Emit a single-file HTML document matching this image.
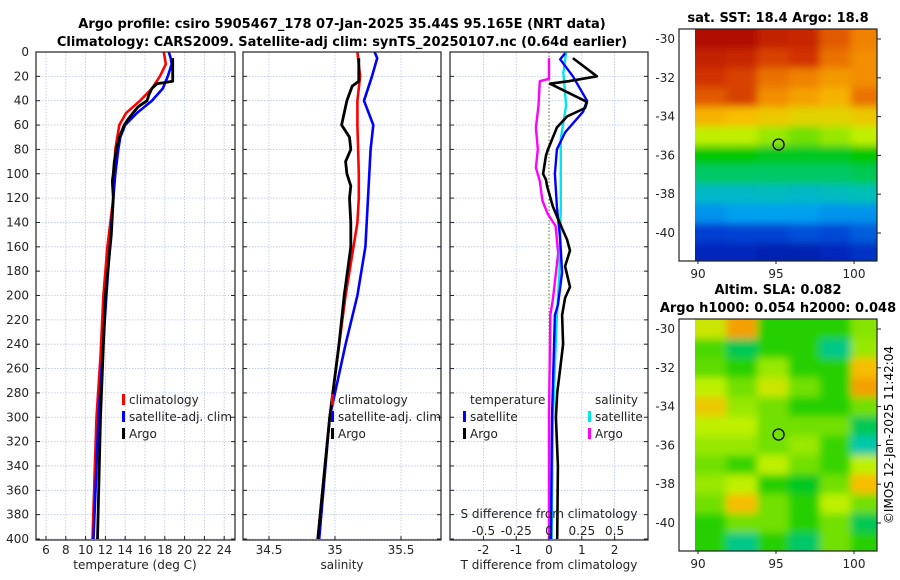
<!DOCTYPE html>
<html><head><meta charset="utf-8"><style>
html,body{margin:0;padding:0;background:#fff;}
svg{display:block;font-family:"DejaVu Sans","Liberation Sans",sans-serif;}
</style></head><body>
<svg id="fig" width="900" height="580" viewBox="0 0 900 580" xmlns="http://www.w3.org/2000/svg">
<defs>
<filter id="soft" x="-5%" y="-5%" width="110%" height="110%"><feGaussianBlur stdDeviation="4"/></filter>
<clipPath id="clipTop"><rect x="695" y="29" width="182" height="232"/></clipPath>
<clipPath id="clipBot"><rect x="695" y="319" width="182" height="232"/></clipPath>
</defs>
<text x="342" y="28" font-size="13" font-weight="bold" text-anchor="middle">Argo profile: csiro 5905467_178 07-Jan-2025 35.44S 95.165E (NRT data)</text>
<text x="342" y="46" font-size="13" font-weight="bold" text-anchor="middle">Climatology: CARS2009. Satellite-adj clim: synTS_20250107.nc (0.64d earlier)</text>
<text x="778" y="22" font-size="13" font-weight="bold" text-anchor="middle">sat. SST: 18.4 Argo: 18.8</text>
<text x="778" y="294" font-size="13" font-weight="bold" text-anchor="middle">Altim. SLA: 0.082</text>
<text x="778" y="312" font-size="13" font-weight="bold" text-anchor="middle">Argo h1000: 0.054 h2000: 0.048</text>
<text transform="translate(893,435) rotate(-90)" font-size="12" text-anchor="middle">©IMOS 12-Jan-2025 11:42:04</text>
<g id="layer"></g>
</svg>
<script>
// ---------- data ----------
const depthTick = [0,20,40,60,80,100,120,140,160,180,200,220,240,260,280,300,320,340,360,380,400];
const tTicks = [6,8,10,12,14,16,18,20,22,24];
const sTicks = [34.5,35,35.5];
const dTTicks = [-2,-1,0,1,2];
const dSTicks = [-0.5,-0.25,0,0.25,0.5];
const dSTickLabels = ['-0.5','-0.25','0','0.25','0.5'];

const climTdepth = [0,10,20,30,40,50,60,70,80,100,120,160,200,250,300,400];
const climT = [17.9,18.1,17.5,16.7,15.5,14.1,13.4,13.2,13.0,12.9,12.8,12.2,11.8,11.5,11.1,10.7];
const satTdepth = [0,5,10,20,30,40,50,60,70,80,100,120,200,300,400];
const satT = [18.4,18.6,18.7,18.3,17.8,16.7,15.2,14.0,13.5,13.3,13.0,12.8,12.1,11.3,10.8];
const argoTdepth = [5,20,24,26,30,35,40,45,50,55,60,70,80,90,100,106,120,150,200,300,400];
const argoT = [18.8,18.8,18.8,17.2,16.7,16.4,16.2,15.3,14.8,14.3,13.9,13.4,13.1,12.9,12.8,12.7,12.8,12.6,12.0,11.5,11.2];

const climSdepth = [0,20,40,60,100,120,140,160,200,250,300,400];
const climS = [35.17,35.19,35.17,35.17,35.18,35.18,35.17,35.14,35.08,35.02,34.96,34.87];
const satSdepth = [0,5,20,40,60,80,100,120,160,200,240,280,300,400];
const satS = [35.30,35.32,35.28,35.22,35.29,35.27,35.26,35.25,35.23,35.17,35.08,35.00,34.96,34.88];
const argoSdepth = [5,24,28,40,50,60,65,70,80,90,100,110,120,140,160,200,240,300,400];
const argoS = [35.18,35.18,35.13,35.09,35.07,35.05,35.08,35.11,35.12,35.08,35.09,35.12,35.11,35.12,35.12,35.07,35.03,34.96,34.87];

const dTargoDepth = [5,20,24,26,41,46,53,62,80,85,100,105,110,127,143,154,163,176,193,202,216,240,260,280,300,340,400];
const dTargo = [0.73,1.46,0.6,0.03,1.16,1.1,0.55,0.24,-0.03,-0.09,-0.18,-0.09,-0.06,0.12,0.37,0.55,0.64,0.49,0.64,0.49,0.4,0.43,0.34,0.25,0.21,0.27,0.25];
const dTsatDepth = [1,6,20,40,49,66,80,100,127,154,181,208,216,300,400];
const dTsat = [0.49,0.34,0.73,1.16,1.04,0.49,0.24,0.18,0.24,0.34,0.4,0.27,0.18,0.09,0.06];
const dSsatDepth = [0,17,44,71,127,181,216,300,400];
const dSsat = [0.13,0.11,0.13,0.09,0.09,0.08,0.06,0.03,0.02];
const dSargoDepth = [5,22,24,44,62,80,95,106,122,133,143,165,203,216,300,400];
const dSargo = [0,0,-0.07,-0.08,-0.1,-0.085,-0.1,-0.07,-0.05,-0.01,0.05,0.07,0.03,0.01,0,0];

const mapLats = [-30,-31,-32,-33,-34,-35,-36,-37,-38,-39,-40,-41];
const mapLonStarts = [89.8,91.8,93.8,95.8,97.8,99.8];
const sstGrid = [
 [.97,.97,.93,.92,.85,.8],[.93,.92,.88,.9,.82,.78],[.9,.88,.82,.8,.76,.78],[.85,.88,.78,.75,.72,.82],
 [.72,.7,.68,.66,.66,.68],[.6,.6,.58,.56,.58,.6],[.5,.5,.48,.48,.48,.5],[.44,.44,.44,.44,.44,.45],
 [.36,.36,.37,.36,.37,.38],[.28,.3,.3,.3,.28,.28],[.15,.16,.16,.18,.17,.2],[.1,.1,.08,.08,.1,.12]];
const slaGrid = [
 [.62,.75,.52,.52,.52,.57],[.54,.45,.52,.52,.42,.58],[.55,.52,.58,.52,.52,.7],[.6,.56,.62,.56,.52,.75],
 [.68,.58,.56,.52,.52,.56],[.6,.6,.56,.56,.56,.45],[.58,.58,.56,.58,.53,.4],[.56,.53,.6,.56,.53,.6],
 [.58,.6,.52,.48,.56,.7],[.56,.7,.56,.52,.6,.56],[.52,.56,.56,.52,.56,.45],[.52,.42,.52,.44,.56,.52]];
const floatLon = 95.165, floatLat = -35.44;
const lonTicks = [90,95,100];
const latTicks = [-30,-32,-34,-36,-38,-40];

// ---------- helpers ----------
const NS='http://www.w3.org/2000/svg';
const layer=document.getElementById('layer');
function mk(tag,attrs,parent){const e=document.createElementNS(NS,tag);for(const k in attrs)e.setAttribute(k,attrs[k]);(parent||layer).appendChild(e);return e;}
const yD = d => 52 + d*1.2175;
const P1 = {x0:36,x1:235}, P2={x0:243,x1:441}, P3={x0:450,x1:648};
const xT = t => 46 + (t-6)*9.9;
const xS = s => 269 + (s-34.5)*132;
const xdT = v => 549 + v*32.8;
const xdS = v => 549 + v*131.2;

function grid(P, xs, fx){
  for(const d of depthTick){const l=mk('line',{x1:P.x0,x2:P.x1,y1:yD(d),y2:yD(d),stroke:'#b8c4e4','stroke-width':0.8,'stroke-dasharray':'1.5,1.5'});
  
  }
  for(const v of xs){const l=mk('line',{x1:fx(v),x2:fx(v),y1:52,y2:540,stroke:'#b8c4e4','stroke-width':0.8,'stroke-dasharray':'1.5,1.5'});
  
  }
}
function frame(P,name){
  const r=mk('rect',{x:P.x0,y:52,width:P.x1-P.x0,height:488,fill:'none',stroke:'#222','stroke-width':1.2});
  
  
  for(const d of depthTick){mk('line',{x1:P.x0,x2:P.x0+4,y1:yD(d),y2:yD(d),stroke:'#222'});mk('line',{x1:P.x1,x2:P.x1-4,y1:yD(d),y2:yD(d),stroke:'#222'});}
}
function xticks(xs,fx,labels,y,name){
  xs.forEach((v,i)=>{mk('line',{x1:fx(v),x2:fx(v),y1:540,y2:536,stroke:'#222'});
  const t=mk('text',{x:fx(v),y:y,'font-size':12,'text-anchor':'middle',fill:'#222'});t.textContent=labels?labels[i]:String(v);
  
  });
}
function line(ds,vs,fx,color,w,name){
  const pts=ds.map((d,i)=>fx(vs[i]).toFixed(1)+','+yD(d).toFixed(1)).join(' ');
  const p=mk('polyline',{points:pts,fill:'none',stroke:color,'stroke-width':w,'stroke-linejoin':'round'});
  
  
}
function label(x,y,txt,name,anchor,size,weight){
  const t=mk('text',{x:x,y:y,'font-size':size||12,'text-anchor':anchor||'start',fill:'#222'});
  if(weight)t.setAttribute('font-weight',weight);
  t.textContent=txt;
  
  
}
function legendMark(x,y,color,name){
  const r=mk('rect',{x:x,y:y-10,width:3,height:11,fill:color});
  
  
}

// ---------- panel 1: temperature ----------
grid(P1,tTicks,xT);
line(climTdepth,climT,xT,'#ff0000',2.6,'climatology-temperature-line');
line(satTdepth,satT,xT,'#0000ff',2.6,'satellite-temperature-line');
line(argoTdepth,argoT,xT,'#000000',2.8,'argo-temperature-line');
frame(P1,'temperature-axes');
depthTick.forEach(d=>label(29,yD(d)+4,String(d),'depth-tick-label','end',12));
xticks(tTicks,xT,null,554,'temperature-tick-label');
label(135,569,'temperature (deg C)','temperature-axis-title','middle',12);
legendMark(122,404,'#ff0000','legend-climatology-marker');label(129,404,'climatology','legend-climatology');
legendMark(122,421,'#0000ff','legend-satellite-marker');label(129,421,'satellite-adj. clim','legend-satellite-adj');
legendMark(122,438,'#000000','legend-argo-marker');label(129,438,'Argo','legend-argo');

// ---------- panel 2: salinity ----------
grid(P2,sTicks,xS);
line(climSdepth,climS,xS,'#ff0000',2.6,'climatology-salinity-line');
line(satSdepth,satS,xS,'#0000ff',2.6,'satellite-salinity-line');
line(argoSdepth,argoS,xS,'#000000',2.8,'argo-salinity-line');
frame(P2,'salinity-axes');
xticks(sTicks,xS,null,554,'salinity-tick-label');
label(342,569,'salinity','salinity-axis-title','middle',12);
legendMark(331,404,'#ff0000','legend2-climatology-marker');label(338,404,'climatology','legend2-climatology');
legendMark(331,421,'#0000ff','legend2-satellite-marker');label(338,421,'satellite-adj. clim','legend2-satellite-adj');
legendMark(331,438,'#000000','legend2-argo-marker');label(338,438,'Argo','legend2-argo');

// ---------- panel 3: differences ----------
grid(P3,[-2,-1,1,2],xdT);
{const z=mk('line',{x1:xdT(0),x2:xdT(0),y1:52,y2:540,stroke:'#556b2f','stroke-width':1,'stroke-dasharray':'1.5,2'});

}
line(dSargoDepth,dSargo,xdS,'#ff00ff',2.4,'argo-salinity-diff-line');
line(dSsatDepth,dSsat,xdS,'#00e5ee',2.4,'satellite-salinity-diff-line');
line(dTsatDepth,dTsat,xdT,'#0000ff',2.4,'satellite-temperature-diff-line');
line(dTargoDepth,dTargo,xdT,'#000000',2.6,'argo-temperature-diff-line');
frame(P3,'difference-axes');
xticks(dTTicks,xdT,null,554,'t-diff-tick-label');
dSTicks.forEach((v,i)=>label(xdS(v),535,dSTickLabels[i],'s-diff-tick-label','middle',12));
label(549,518,'S difference from climatology','s-diff-axis-title','middle',12);
label(549,569,'T difference from climatology','t-diff-axis-title','middle',12);
label(470,404,'temperature','legend3-temperature-header');
legendMark(463,421,'#0000ff','legend3-tsat-marker');label(470,421,'satellite','legend3-t-satellite');
legendMark(463,438,'#000000','legend3-targo-marker');label(470,438,'Argo','legend3-t-argo');
label(595,404,'salinity','legend3-salinity-header');
legendMark(588,421,'#00e5ee','legend3-ssat-marker');label(595,421,'satellite','legend3-s-satellite');
legendMark(588,438,'#ff00ff','legend3-sargo-marker');label(595,438,'Argo','legend3-s-argo');

// ---------- maps ----------
const stops=[[0,[0,0,140]],[.15,[0,60,210]],[.3,[0,160,240]],[.4,[0,200,170]],[.5,[0,200,0]],[.6,[190,240,0]],[.7,[248,190,0]],[.8,[240,130,0]],[.9,[210,50,0]],[1,[160,0,0]]];
function cmap(v){for(let i=1;i<stops.length;i++){if(v<=stops[i][0]){const a=stops[i-1],b=stops[i],f=(v-a[0])/(b[0]-a[0]);return 'rgb('+a[1].map((c,k)=>Math.round(c+(b[1][k]-c)*f)).join(',')+')';}}return 'rgb(160,0,0)';}
function drawMap(top,grid,name,clip){
  const lx=lon=>776+(lon-95)*15.6, ly=lat=>top+10+(-30-lat)*19.4;
  const bottom=top+232;
  const cg=mk('g',{'clip-path':'url(#'+clip+')'});
  const g=mk('g',{filter:'url(#soft)'},cg);
  
  
  mapLats.forEach((lat,i)=>mapLonStarts.forEach((lon,j)=>{
    const y0=ly(lat+0.5)-(i===0?12:0), y1=ly(lat-0.5)+(i===mapLats.length-1?12:0);
    const x0=lon===mapLonStarts[0]?lx(lon)-10:lx(lon), x1=j===mapLonStarts.length-1?lx(lon+2)+12:lx(lon+2);
    const r=mk('rect',{x:x0,y:y0,width:x1-x0+0.5,height:y1-y0+0.5,fill:cmap(grid[i][j])},g);
    
    
  }));
  const fr=mk('rect',{x:679,y:top,width:198,height:232,fill:'none',stroke:'#222','stroke-width':1.2});
  
  
  latTicks.forEach(lat=>{mk('line',{x1:877,x2:881,y1:ly(lat),y2:ly(lat),stroke:'#222'});
    label(675,ly(lat)+4,String(lat),name+'-lat-label','end',12);});
  lonTicks.forEach(lon=>{mk('line',{x1:lx(lon),x2:lx(lon),y1:bottom,y2:bottom+3,stroke:'#222'});
    label(lx(lon),bottom+17,String(lon),name+'-lon-label','middle',12);});
  const c=mk('circle',{cx:lx(floatLon),cy:ly(floatLat),r:5.5,fill:'none',stroke:'#000','stroke-width':1.3});
  
  
}
drawMap(29,sstGrid,'sst-map','clipTop');
drawMap(319,slaGrid,'sla-map','clipBot');
</script>
</body></html>
